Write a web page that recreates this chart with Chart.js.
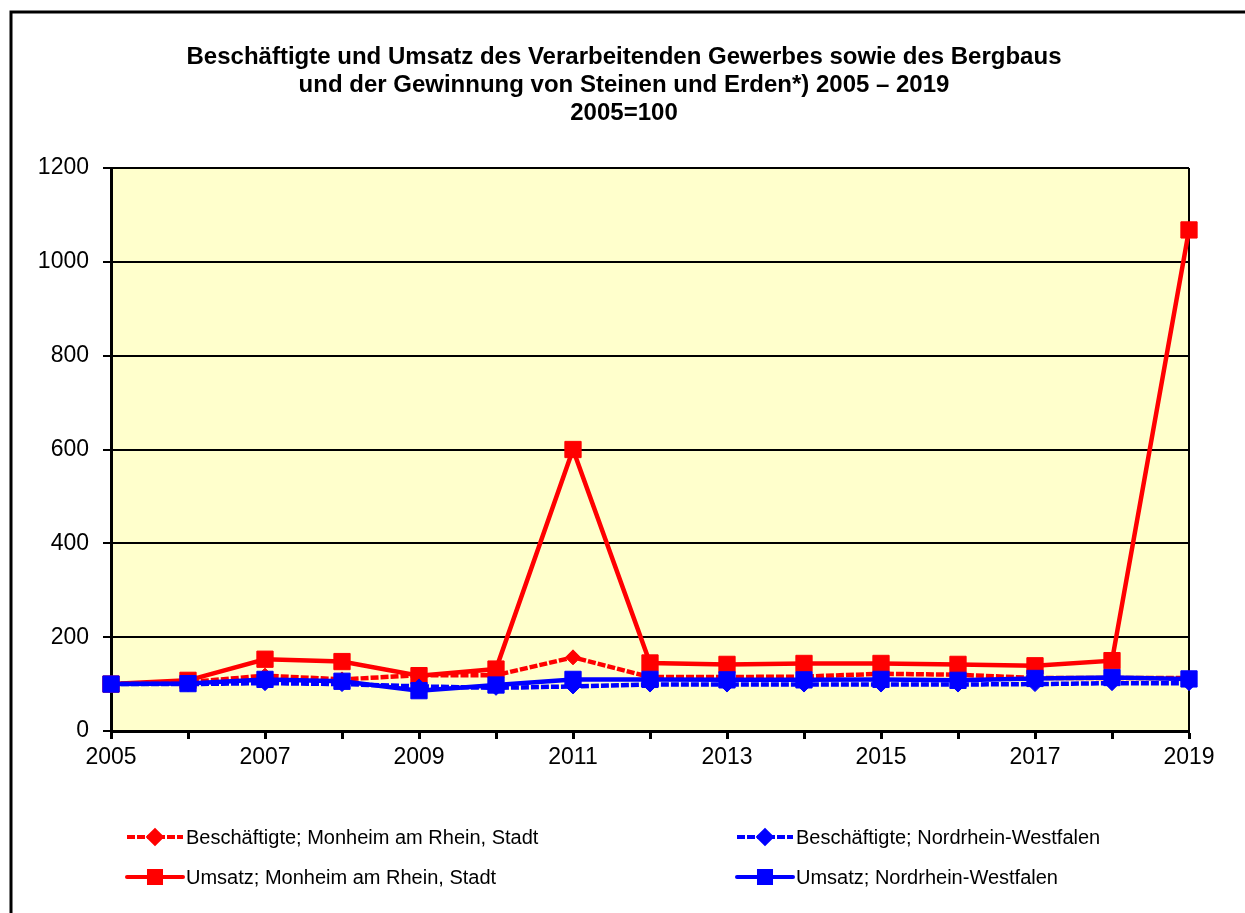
<!DOCTYPE html>
<html>
<head>
<meta charset="utf-8">
<title>Beschäftigte und Umsatz 2005 – 2019</title>
<script src="https://cdn.jsdelivr.net/npm/chart.js"></script>
<style>
  html, body { margin: 0; padding: 0; background: #fff; }
  #wrap { position: relative; width: 1245px; height: 913px; }
</style>
</head>
<body>
<div id="wrap"><canvas id="chart" width="1245" height="913"></canvas></div>
<script>
// Jahre (x-Achse)
const years = ['2005', '2006', '2007', '2008', '2009', '2010', '2011', '2012',
               '2013', '2014', '2015', '2016', '2017', '2018', '2019'];

// Indexwerte 2005=100
const beschMonheim = [100, 104, 118, 110, 119, 119, 157, 115, 115, 116, 122, 120, 113, 113, 113];
const beschNRW     = [100, 100, 102, 100, 95, 92, 95, 99, 99, 99, 99, 99, 100, 102, 102];
const umsatzMonheim = [100, 108, 153, 148, 118, 132, 600, 145, 142, 144, 144, 142, 139, 150, 1068];
const umsatzNRW     = [100, 101, 110, 106, 86, 98, 110, 110, 109, 109, 110, 108, 112, 114, 111];

const seriesLabels = [
    'Beschäftigte; Monheim am Rhein, Stadt',
    'Beschäftigte; Nordrhein-Westfalen',
    'Umsatz; Monheim am Rhein, Stadt',
    'Umsatz; Nordrhein-Westfalen'
];

const titleLines = [
    'Beschäftigte und Umsatz des Verarbeitenden Gewerbes sowie des Bergbaus',
    'und der Gewinnung von Steinen und Erden*) 2005 – 2019',
    '2005=100'
];

const yTicks = [0, 200, 400, 600, 800, 1000, 1200];

const FONT = '"Liberation Sans", Arial, sans-serif';
const RED = '#FF0000';
const BLUE = '#0000FF';

// Hintergrund, Rahmen und Titel
const backdrop = {
    id: 'backdrop',
    beforeDraw(chart) {
        const { ctx, chartArea } = chart;
        ctx.save();
        ctx.fillStyle = '#FFFFFF';
        ctx.fillRect(0, 0, chart.width, chart.height);
        ctx.fillStyle = '#FFFFCC';
        ctx.fillRect(chartArea.left, chartArea.top, chartArea.right - chartArea.left, chartArea.bottom - chartArea.top);

        // outer frame (only left + top are visible)
        ctx.strokeStyle = '#000';
        ctx.lineWidth = 3;
        ctx.beginPath();
        ctx.moveTo(11, chart.height + 5);
        ctx.lineTo(11, 12);
        ctx.lineTo(chart.width + 5, 12);
        ctx.stroke();

        // title
        ctx.fillStyle = '#000';
        ctx.font = 'bold 24px ' + FONT;
        ctx.textAlign = 'center';
        ctx.textBaseline = 'alphabetic';
        const baselines = [64, 92, 120];
        titleLines.forEach((line, i) => ctx.fillText(line, 624, baselines[i]));
        ctx.restore();
    },
    beforeDatasetsDraw(chart) {
        // right border of the plot area
        const { ctx, chartArea } = chart;
        ctx.save();
        ctx.strokeStyle = '#000';
        ctx.lineWidth = 2;
        ctx.beginPath();
        ctx.moveTo(chartArea.right, chartArea.top);
        ctx.lineTo(chartArea.right, chartArea.bottom);
        ctx.stroke();
        ctx.restore();
    }
};

// Legende wie im Original: zwei Spalten, zwei Zeilen
const legendBox = {
    id: 'legendBox',
    afterDraw(chart) {
        const { ctx } = chart;
        const colX = [127, 737];
        const rowY = [837, 877];
        ctx.save();
        chart.data.datasets.forEach((ds, i) => {
            const x0 = colX[i % 2];
            const y = rowY[Math.floor(i / 2)];
            const x1 = x0 + 56;
            const dashed = ds.borderDash && ds.borderDash.length > 0;
            ctx.strokeStyle = ds.borderColor;
            ctx.lineWidth = 4;
            ctx.lineCap = dashed ? 'butt' : 'round';
            ctx.setLineDash(dashed ? ds.borderDash : []);
            ctx.beginPath();
            ctx.moveTo(x0, y);
            ctx.lineTo(x1, y);
            ctx.stroke();
            ctx.setLineDash([]);
            ctx.fillStyle = ds.backgroundColor;
            ctx.strokeStyle = ds.borderColor;
            Chart.helpers.drawPoint(ctx, {
                pointStyle: ds.pointStyle,
                radius: ds.pointStyle === 'rect' ? 8.5 : 6.5,
                rotation: 0,
                borderWidth: 1
            }, (x0 + x1) / 2, y);
            ctx.fillStyle = '#000';
            ctx.font = '20px ' + FONT;
            ctx.textAlign = 'left';
            ctx.textBaseline = 'middle';
            ctx.fillText(ds.label, x1 + 3, y + 1);
        });
        ctx.restore();
    }
};

function lineSet(label, data, color, dashed, order) {
    return {
        label: label,
        data: data,
        borderColor: color,
        backgroundColor: color,
        borderWidth: 4.5,
        borderDash: dashed ? [8, 2] : [],
        pointStyle: dashed ? 'rectRot' : 'rect',
        pointRadius: dashed ? 7.5 : 11.5,
        pointHoverRadius: dashed ? 7.5 : 11.5,
        pointBorderWidth: 1,
        pointBorderColor: color,
        pointBackgroundColor: color,
        tension: 0,
        clip: false,
        order: order
    };
}

new Chart(document.getElementById('chart'), {
    type: 'line',
    data: {
        labels: years,
        datasets: [
            lineSet(seriesLabels[0], beschMonheim, RED, true, 3),
            lineSet(seriesLabels[1], beschNRW, BLUE, true, 1),
            lineSet(seriesLabels[2], umsatzMonheim, RED, false, 2),
            lineSet(seriesLabels[3], umsatzNRW, BLUE, false, 0)
        ]
    },
    options: {
        responsive: false,
        animation: false,
        events: [],
        layout: { padding: { top: 168, right: 56, bottom: 0, left: 0 } },
        plugins: {
            legend: { display: false },
            title: { display: false },
            tooltip: { enabled: false }
        },
        scales: {
            x: {
                offset: false,
                afterFit(scale) { scale.height = 182; },
                grid: {
                    drawOnChartArea: false,
                    drawTicks: true,
                    tickLength: 8,
                    tickWidth: 3,
                    tickColor: '#000'
                },
                border: { color: '#000', width: 3 },
                ticks: {
                    autoSkip: false,
                    maxRotation: 0,
                    padding: 5,
                    color: '#000',
                    font: { family: FONT, size: 23 },
                    callback: (val, i) => (i % 2 === 0 ? years[i] : '')
                }
            },
            y: {
                min: yTicks[0],
                max: yTicks[yTicks.length - 1],
                afterFit(scale) { scale.width = 111; },
                afterBuildTicks(scale) { scale.ticks = yTicks.map(v => ({ value: v })); },
                grid: {
                    color: '#000',
                    lineWidth: 2,
                    drawTicks: true,
                    tickLength: 8,
                    tickColor: '#000'
                },
                border: { color: '#000', width: 3 },
                ticks: {
                    padding: 14,
                    color: '#000',
                    font: { family: FONT, size: 23 },
                    callback: (val) => String(val)
                }
            }
        }
    },
    plugins: [backdrop, legendBox]
});
</script>
</body>
</html>
